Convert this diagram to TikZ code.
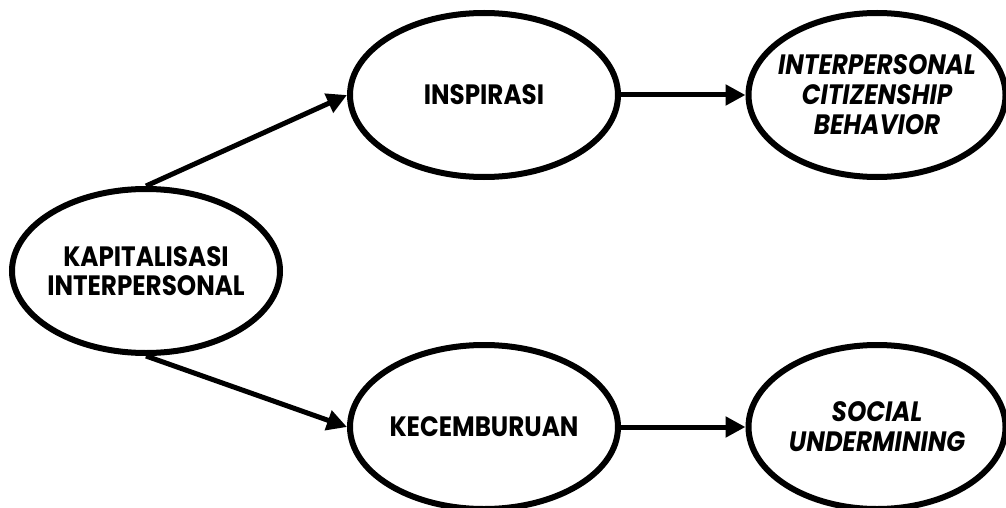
\documentclass[tikz,border=0pt]{standalone}
\usepackage{fontspec}
\setmainfont{Poppins}[FakeStretch=0.88]
\usepackage{tikz}
\usetikzlibrary{
        arrows.meta,
        positioning,
        shapes,
        shapes.geometric
    }
\tikzset{>={Triangle[length=20pt,width=20pt]},auto,node distance=393pt}
\tikzset{bubble/.style={ellipse,draw,line width=6pt,inner sep=0pt,
        minimum width=268pt,minimum height=164pt}}
\tikzset{lbl/.style={font=\fontsize{28}{29}\selectfont\bfseries,align=center}}
\tikzset{itl/.style={font=\fontsize{28}{30}\selectfont\bfseries\itshape,align=center}}

\begin{document}
\begin{tikzpicture}[x=1pt,y=-1pt]
                    \useasboundingbox (0,0) rectangle (1006,508);
                        \node[bubble,label={[lbl]center:KAPITALISASI\\INTERPERSONAL}] (kap) at (146,271) {};
                        \node[bubble,label={[lbl]center:INSPIRASI}] (insp) at (484,95) {};
                        \node[bubble,minimum width=257pt,
                              label={[itl]center:INTERPERSONAL\\CITIZENSHIP\\BEHAVIOR}] (icb) [right of=insp] {};
                        \node[bubble,label={[lbl]center:KECEMBURUAN}] (kec) at (484,427) {};
                        \node[bubble,minimum width=257pt,
                              label={[itl]center:SOCIAL\\UNDERMINING}] (su) [right of=kec] {};
                    \path[->,line width=5pt]
                            (kap.north) edge (insp.west)
                            (kap.south) edge (kec.west)
                            (insp)      edge (icb)
                            (kec)       edge (su)
                            ;
            \end{tikzpicture}
\end{document}
